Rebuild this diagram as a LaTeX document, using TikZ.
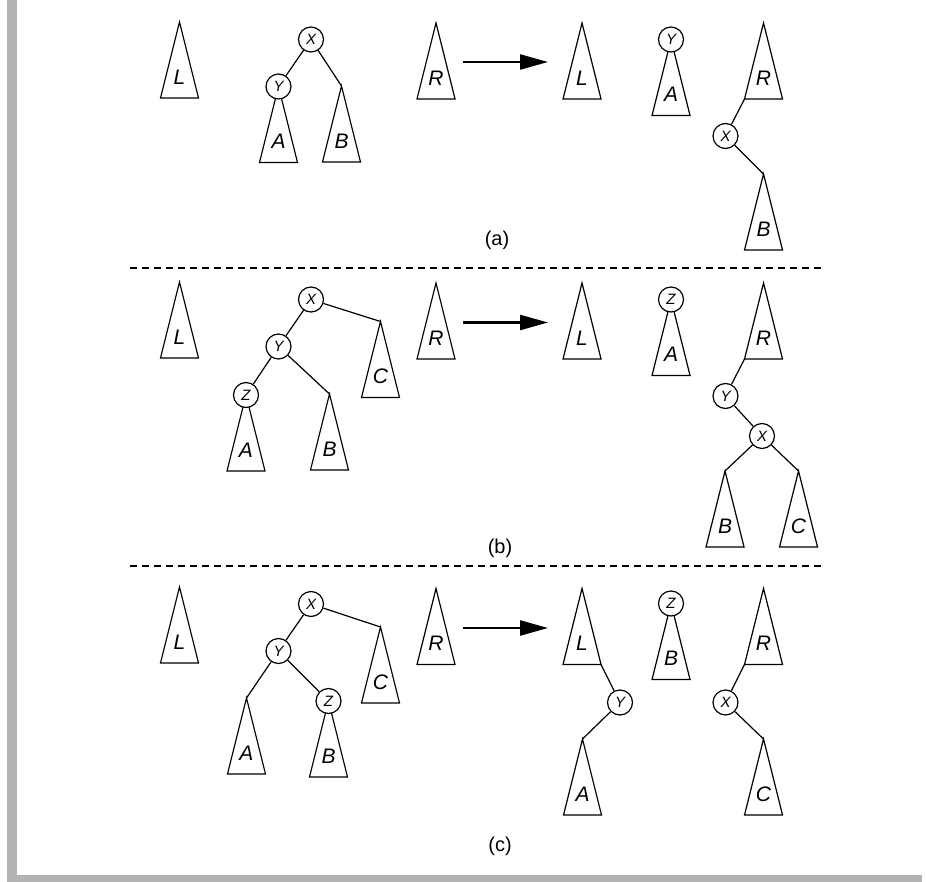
\documentclass[tikz,border=0pt]{standalone}
\usepackage{fontspec}
\setmainfont{Liberation Sans}
\usetikzlibrary{arrows.meta,calc}
\definecolor{framegray}{RGB}{179,179,179}

\tikzset{
  treeedge/.style={line width=0.6pt},
  keynode/.style={circle,draw,fill=white,line width=0.6pt,inner sep=0pt,minimum size=12.5pt,font=\fontsize{7.5}{8}\selectfont\itshape},
  trilabel/.style={font=\fontsize{10.5}{12}\selectfont\itshape,inner sep=0pt},
  panellabel/.style={font=\fontsize{10}{12}\selectfont,inner sep=0pt},
  sepline/.style={dash pattern=on 3.5pt off 2.5pt,line width=0.6pt},
  bigarrow/.style={line width=1.2pt,-{Triangle[length=14pt,width=7.5pt]}}
}

% subtree triangle: name, apex x, apex y, label
\newcommand{\subtri}[4]{%
  \coordinate (#1) at (#2,#3);
  \coordinate (#1-bl) at ($(#1)+(-19,76)$);
  \coordinate (#1-br) at ($(#1)+(19,76)$);
  \draw[line width=0.6pt,fill=white] (#1) -- (#1-bl) -- (#1-br) -- cycle;
  \node[trilabel] (#1-lbl) at ($(#1)+(0,55)$) {#4};
}

\begin{document}
\begin{tikzpicture}[x=0.5pt,y=-0.5pt]
\useasboundingbox (0,0) rectangle (926,882);
\fill[framegray] (7,0) rectangle (17,882);
\fill[framegray] (7,875) rectangle (922,882);

% (a)
\subtri{aL}{179.5}{22}{L}
\subtri{aA}{278.5}{86.5}{A}
\subtri{aB}{341.5}{86}{B}
\subtri{aR}{436}{23}{R}
\node[keynode] (aX) at (311,39.5) {X};
\node[keynode] (aY) at (278.5,86.5) {Y};
\draw[treeedge] (aX) -- (aY);
\draw[treeedge] (aX) -- (aB);
\coordinate (aArrS) at (463,62);
\coordinate (aArrE) at (548,62);
\draw[bigarrow] (aArrS) -- (aArrE);
\subtri{aL2}{582}{23}{L}
\subtri{aA2}{671}{39.5}{A}
\subtri{aR2}{763.5}{23}{R}
\subtri{aB2}{763.5}{174}{B}
\node[keynode] (aY2) at (671,39.5) {Y};
\node[keynode] (aX2) at (725.5,136) {X};
\draw[treeedge] (aR2-bl) -- (aX2);
\draw[treeedge] (aX2) -- (aB2);
\node[panellabel] (aCap) at (497,240) {(a)};

\coordinate (sep1S) at (130,268);
\coordinate (sep1E) at (825,268);
\draw[sepline] (sep1S) -- (sep1E);

% (b)
\subtri{bL}{179.5}{282}{L}
\subtri{bA}{246}{395}{A}
\subtri{bB}{329.5}{394}{B}
\subtri{bC}{380.5}{321.5}{C}
\subtri{bR}{436}{283}{R}
\node[keynode] (bX) at (311,299.5) {X};
\node[keynode] (bY) at (278.5,346.5) {Y};
\node[keynode] (bZ) at (246,395) {Z};
\draw[treeedge] (bX) -- (bY);
\draw[treeedge] (bY) -- (bZ);
\draw[treeedge] (bY) -- (bB);
\draw[treeedge] (bX) -- (bC);
\coordinate (bArrS) at (463,322.5);
\coordinate (bArrE) at (548,322.5);
\draw[bigarrow] (bArrS) -- (bArrE);
\subtri{bL2}{582}{283}{L}
\subtri{bA2}{671}{299.5}{A}
\subtri{bR2}{763.5}{283}{R}
\subtri{bB2}{725}{471}{B}
\subtri{bC2}{798.5}{471}{C}
\node[keynode] (bZ2) at (671,299.5) {Z};
\node[keynode] (bY2) at (725.5,396) {Y};
\node[keynode] (bX2) at (762,436) {X};
\draw[treeedge] (bR2-bl) -- (bY2);
\draw[treeedge] (bY2) -- (bX2);
\draw[treeedge] (bX2) -- (bB2);
\draw[treeedge] (bX2) -- (bC2);
\node[panellabel] (bCap) at (500,548) {(b)};

\coordinate (sep2S) at (130,566);
\coordinate (sep2E) at (825,566);
\draw[sepline] (sep2S) -- (sep2E);

% (c)
\subtri{cL}{179.5}{587}{L}
\subtri{cA}{246.5}{698}{A}
\subtri{cB}{328.5}{701}{B}
\subtri{cC}{380.5}{627}{C}
\subtri{cR}{436}{588.5}{R}
\node[keynode] (cX) at (311,604) {X};
\node[keynode] (cY) at (278.5,651) {Y};
\node[keynode] (cZ) at (328.5,701) {Z};
\draw[treeedge] (cX) -- (cY);
\draw[treeedge] (cY) -- (cA);
\draw[treeedge] (cY) -- (cZ);
\draw[treeedge] (cX) -- (cC);
\coordinate (cArrS) at (463,628);
\coordinate (cArrE) at (548,628);
\draw[bigarrow] (cArrS) -- (cArrE);
\subtri{cL2}{582}{588.5}{L}
\subtri{cA2}{582.5}{739}{A}
\subtri{cB2}{671}{603.5}{B}
\subtri{cR2}{763.5}{588.5}{R}
\subtri{cC2}{763.5}{739}{C}
\node[keynode] (cY2) at (620,702.5) {Y};
\node[keynode] (cZ2) at (671,603.5) {Z};
\node[keynode] (cX2) at (725.5,702.5) {X};
\draw[treeedge] (cL2-br) -- (cY2);
\draw[treeedge] (cY2) -- (cA2);
\draw[treeedge] (cR2-bl) -- (cX2);
\draw[treeedge] (cX2) -- (cC2);
\node[panellabel] (cCap) at (500,846) {(c)};
\end{tikzpicture}
\end{document}
